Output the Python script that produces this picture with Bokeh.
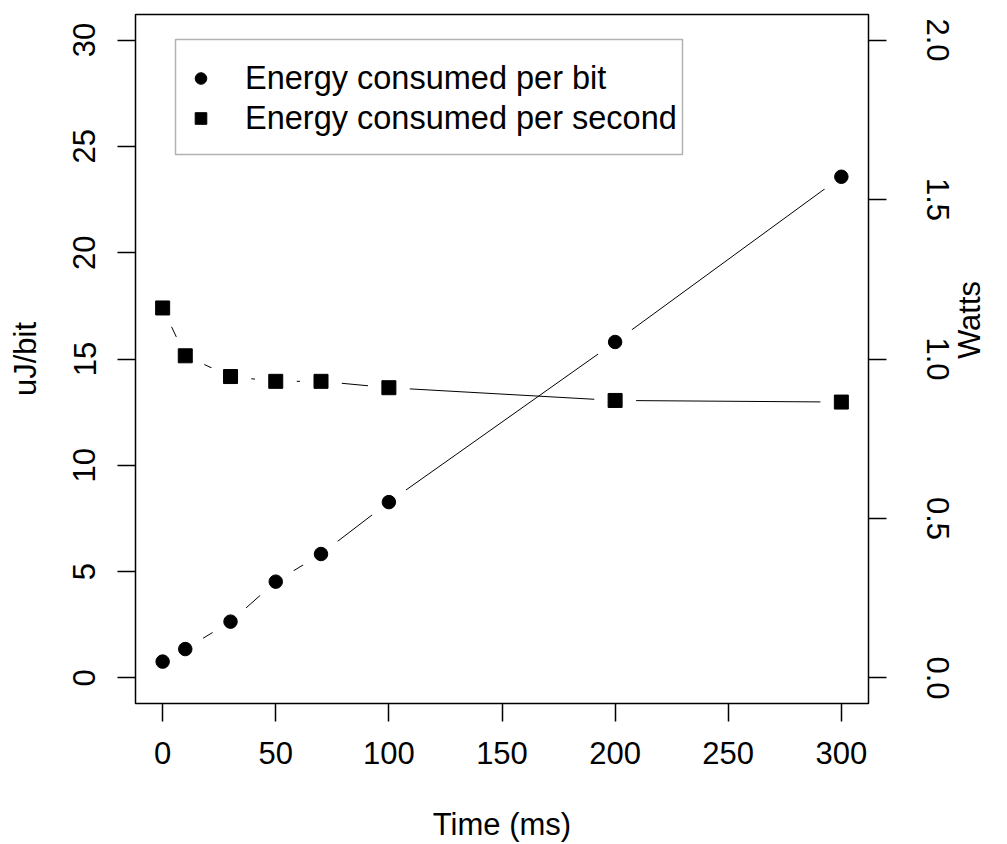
import math
from bokeh.plotting import figure
from bokeh.models import (Range1d, LinearAxis, FixedTicker, Legend, LegendItem,
                          NumeralTickFormatter, BoxAnnotation)
from bokeh.embed import file_html
from bokeh.resources import INLINE

# ---- data ----
time_ms = [0, 10, 30, 50, 70, 100, 200, 300]
energy_per_bit = [0.77, 1.36, 2.65, 4.53, 5.83, 8.27, 15.8, 23.57]          # uJ/bit (left axis)
energy_per_second = [1.16, 1.01, 0.945, 0.93, 0.93, 0.91, 0.87, 0.865]     # Watts (right axis)
x_ticks = [0, 50, 100, 150, 200, 250, 300]
left_ticks = [0, 5, 10, 15, 20, 25, 30]
right_ticks = [0.0, 0.5, 1.0, 1.5, 2.0]
label_bit = "Energy consumed per bit"
label_sec = "Energy consumed per second"

FONT = "Liberation Sans"

p = figure(width=1007, height=844, output_backend="svg", toolbar_location=None,
           x_range=Range1d(-12, 312), y_range=Range1d(-1.2, 31.2),
           min_border_left=135, min_border_right=139, min_border_top=14, min_border_bottom=140,
           background_fill_color="white", border_fill_color="white")
p.extra_y_ranges = {"watts": Range1d(-0.08, 2.08)}
p.grid.visible = False
p.outline_line_color = "black"
p.outline_line_width = 1.5


def style(ax, standoff, label_standoff):
    ax.axis_line_color = None
    ax.major_tick_in = 0
    ax.major_tick_out = 18
    ax.major_tick_line_color = "black"
    ax.major_tick_line_width = 1.5
    ax.minor_tick_line_color = None
    ax.major_label_text_font = FONT
    ax.major_label_text_font_size = "31px"
    ax.major_label_text_color = "black"
    ax.axis_label_text_font = FONT
    ax.axis_label_text_font_size = "31px"
    ax.axis_label_text_font_style = "normal"
    ax.axis_label_text_color = "black"
    ax.major_label_standoff = standoff
    ax.axis_label_standoff = label_standoff


xa = p.xaxis[0]
xa.ticker = FixedTicker(ticks=x_ticks)
xa.axis_label = "Time (ms)"
style(xa, 20, 40)

ya = p.yaxis[0]
ya.ticker = FixedTicker(ticks=left_ticks)
ya.axis_label = "uJ/bit"
ya.major_label_orientation = "vertical"
style(ya, 22, 28)

ra = LinearAxis(y_range_name="watts", ticker=FixedTicker(ticks=right_ticks),
                formatter=NumeralTickFormatter(format="0.0"), axis_label="Watts")
ra.major_label_orientation = "vertical"
style(ra, 40, 18)
ra.axis_label_text_align = "center"
ra.axis_label_text_baseline = "middle"
if "axis_label_orientation" in ra.properties():
    ra.axis_label_orientation = math.pi / 2
p.add_layout(ra, "right")

# lines (R type="b": lines with gaps around points)
p.line(time_ms, energy_per_bit, line_color="black", line_width=1)
p.line(time_ms, energy_per_second, y_range_name="watts", line_color="black", line_width=1)
# white halos create the gaps around the points
p.scatter(time_ms, energy_per_bit, marker="circle", size=42, fill_color="white", line_color=None)
p.scatter(time_ms, energy_per_second, y_range_name="watts", marker="circle", size=42,
          fill_color="white", line_color=None)
# markers
r_bit = p.scatter(time_ms, energy_per_bit, marker="circle", size=13.5, fill_color="black", line_color="black")
r_sec = p.scatter(time_ms, energy_per_second, y_range_name="watts", marker="square", size=14,
                  fill_color="black", line_color="black")

# legend frame
p.add_layout(BoxAnnotation(left=40, right=547, bottom=549, top=664,
                           left_units="screen", right_units="screen",
                           bottom_units="screen", top_units="screen",
                           fill_color="white", fill_alpha=1.0,
                           line_color="black", line_width=1.5))

legend = Legend(items=[LegendItem(label=label_bit, renderers=[r_bit]),
                       LegendItem(label=label_sec, renderers=[r_sec])],
                location=(51, 565), padding=0, spacing=0,
                glyph_width=29, glyph_height=40, label_height=29, label_standoff=30,
                label_text_font=FONT, label_text_font_size="32.5px", label_text_color="black",
                border_line_color=None, background_fill_alpha=0.0)
p.add_layout(legend, "center")

open("out.html", "w").write(file_html(p, INLINE))
